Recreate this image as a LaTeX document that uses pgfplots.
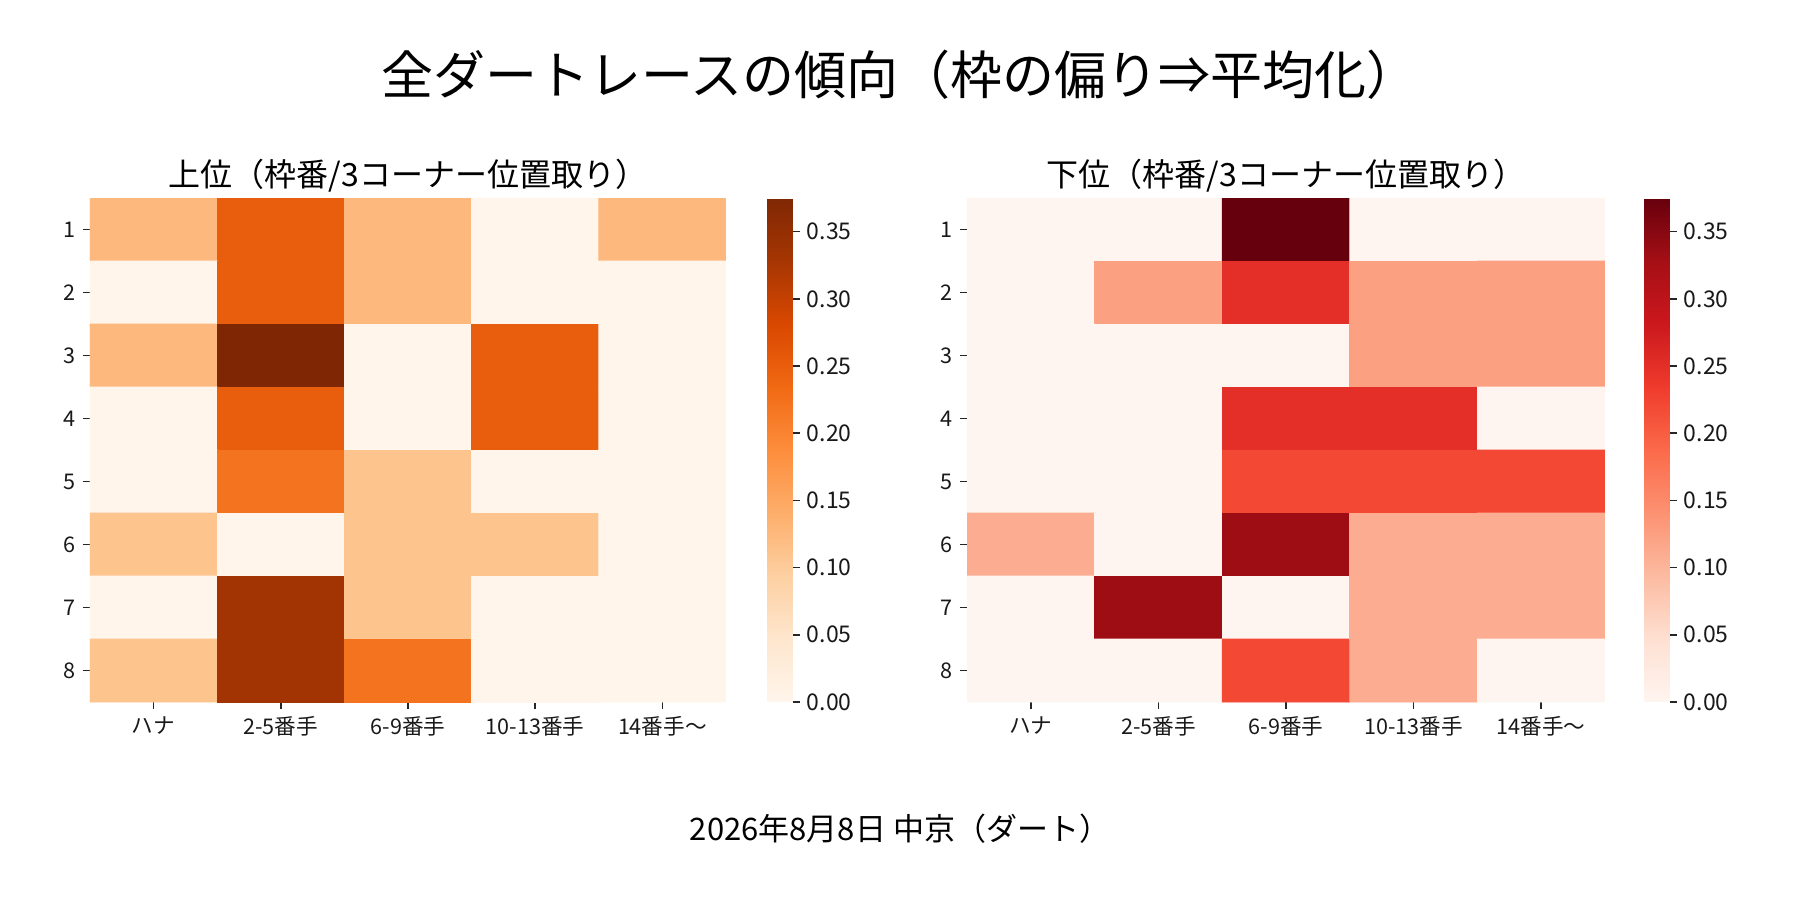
\documentclass[border=0pt]{standalone}
\usepackage{fontspec}
\setmainfont{Noto Sans CJK JP}
\usepackage{pgfplots}
\pgfplotsset{compat=1.18}
\usepackage{pgfplotstable}

\pgfplotsset{
  colormap={oranges}{rgb255=(255,245,235) rgb255=(254,230,206) rgb255=(253,208,162) rgb255=(253,174,107) rgb255=(253,141,60) rgb255=(241,105,19) rgb255=(217,72,1) rgb255=(166,54,3) rgb255=(127,39,4)},
  colormap={reds}{rgb255=(255,245,240) rgb255=(254,224,210) rgb255=(252,187,161) rgb255=(252,146,114) rgb255=(251,106,74) rgb255=(239,59,44) rgb255=(203,24,29) rgb255=(165,15,21) rgb255=(103,0,13)},
}

\pgfplotstableread{
x y c
0 1 0.125
1 1 0.25
2 1 0.125
3 1 0
4 1 0.125
0 2 0
1 2 0.25
2 2 0.125
3 2 0
4 2 0
0 3 0.125
1 3 0.375
2 3 0
3 3 0.25
4 3 0
0 4 0
1 4 0.25
2 4 0
3 4 0.25
4 4 0
0 5 0
1 5 0.222
2 5 0.111
3 5 0
4 5 0
0 6 0.111
1 6 0
2 6 0.111
3 6 0.111
4 6 0
0 7 0
1 7 0.333
2 7 0.111
3 7 0
4 7 0
0 8 0.111
1 8 0.333
2 8 0.222
3 8 0
4 8 0
}\uppertab

\pgfplotstableread{
x y c
0 1 0
1 1 0
2 1 0.375
3 1 0
4 1 0
0 2 0
1 2 0.125
2 2 0.25
3 2 0.125
4 2 0.125
0 3 0
1 3 0
2 3 0
3 3 0.125
4 3 0.125
0 4 0
1 4 0
2 4 0.25
3 4 0.25
4 4 0
0 5 0
1 5 0
2 5 0.222
3 5 0.222
4 5 0.222
0 6 0.111
1 6 0
2 6 0.333
3 6 0.111
4 6 0.111
0 7 0
1 7 0.333
2 7 0
3 7 0.111
4 7 0.111
0 8 0
1 8 0
2 8 0.222
3 8 0.111
4 8 0
}\lowertab

\pgfplotsset{
  heat/.style={
    scale only axis, width=318pt, height=252pt, anchor=south west,
    xmin=-0.5, xmax=4.5, ymin=0.5, ymax=8.5, y dir=reverse,
    enlargelimits=false,
    axis line style={draw=none},
    tick align=outside, tick pos=left,
    xtick={0,1,2,3,4}, ytick={1,2,3,4,5,6,7,8},
    xticklabels={ハナ,2-5番手,6-9番手,10-13番手,14番手〜},
    major tick length=3.65pt,
    tick style={black!85, line width=0.8pt},
    tick label style={font=\fontsize{10.8}{12}\selectfont, text=black!90},
    /pgf/number format/assume math mode=true,
    point meta min=0, point meta max=0.375,
    title style={font=\fontsize{16}{19}\selectfont, at={(0.5,1)}, anchor=center, yshift=5.25pt},
    colorbar,
    colorbar style={
      at={(parent axis.north east)}, anchor=north west,
      width=12.75pt,
      axis line style={draw=none},
      ytick={0,0.05,0.1,0.15,0.2,0.25,0.3,0.35},
      scaled y ticks=false,
      yticklabel style={/pgf/number format/.cd, fixed, fixed zerofill, precision=2, assume math mode=true},
      tick align=outside, ytick pos=right, yticklabel pos=right,
      major tick length=3.65pt,
      tick style={black!85, line width=0.8pt},
      tick label style={font=\fontsize{11.5}{13}\selectfont, text=black!90},
    },
  }
}

\begin{document}
\begin{tikzpicture}
\path[use as bounding box] (0,0) rectangle (900pt,450pt);

\begin{axis}[heat, at={(45pt,99pt)}, colormap name=oranges,
  title={上位（枠番/3コーナー位置取り）},
  colorbar style={xshift=12pt}]
\addplot[matrix plot*, mesh/cols=5, point meta=explicit] table[x=x, y=y, meta=c] {\uppertab};
\end{axis}

\begin{axis}[heat, at={(483.5pt,99pt)}, width=319pt, colormap name=reds,
  title={下位（枠番/3コーナー位置取り）},
  colorbar style={xshift=11pt}]
\addplot[matrix plot*, mesh/cols=5, point meta=explicit] table[x=x, y=y, meta=c] {\lowertab};
\end{axis}

\node[font=\fontsize{26}{30}\selectfont, anchor=center] at (450pt,412.5pt) {全ダートレースの傾向（枠の偏り⇒平均化）};
\node[font=\fontsize{15.5}{18}\selectfont, anchor=center] at (450pt,35.5pt) {2026年8月8日 中京（ダート）};
\end{tikzpicture}
\end{document}
